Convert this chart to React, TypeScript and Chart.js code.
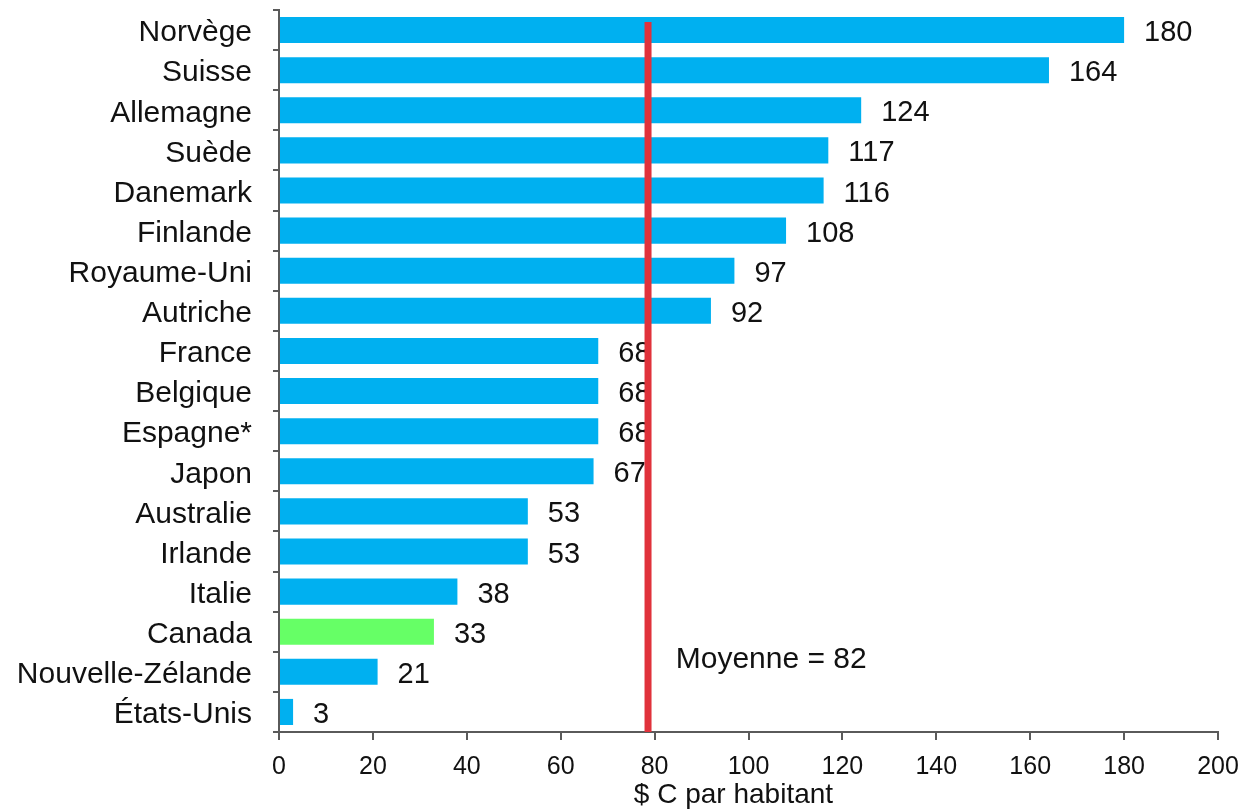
import React, { useEffect, useRef } from "react";
import { Chart, registerables } from "chart.js";

Chart.register(...registerables);

const categories = [
  "Norvège",
  "Suisse",
  "Allemagne",
  "Suède",
  "Danemark",
  "Finlande",
  "Royaume-Uni",
  "Autriche",
  "France",
  "Belgique",
  "Espagne*",
  "Japon",
  "Australie",
  "Irlande",
  "Italie",
  "Canada",
  "Nouvelle-Zélande",
  "États-Unis",
];

const values = [180, 164, 124, 117, 116, 108, 97, 92, 68, 68, 68, 67, 53, 53, 38, 33, 21, 3];

const highlightCategory = "Canada";

const xTicksMin = 0;
const xTicksMax = 200;
const xTicksStep = 20;
const xAxisTitle = "$ C par habitant";
const xAxisTitleCenter = 96.8;

const meanLineValue = 78.6;
const meanLabel = "Moyenne = 82";
const meanLabelX = 84.5;
const meanLabelCategoryPos = 15.7;

const FONT = "'Liberation Sans', Arial, sans-serif";
const TEXT = "#111111";
const BLUE = "#00b0f0";
const GREEN = "#66ff66";
const RED = "#e0323b";
const AXIS = "#5a5a5a";

export default function App() {
  const ref = useRef<HTMLCanvasElement | null>(null);

  useEffect(() => {
    if (!ref.current) return;

    const overlay = {
      id: "overlay",
      afterDatasetsDraw(chart: any) {
        const ctx = chart.ctx;
        const meta = chart.getDatasetMeta(0);
        ctx.save();
        ctx.font = `29px ${FONT}`;
        ctx.fillStyle = TEXT;
        ctx.textAlign = "left";
        ctx.textBaseline = "middle";
        meta.data.forEach((bar: any, i: number) => {
          ctx.fillText(String(values[i]), bar.x + 20, bar.y + 3);
        });
        ctx.restore();
      },
      afterDraw(chart: any) {
        const ctx = chart.ctx;
        const xs = chart.scales.x;
        const ys = chart.scales.y;
        const area = chart.chartArea;
        const x = xs.getPixelForValue(meanLineValue);
        ctx.save();
        ctx.fillStyle = RED;
        ctx.fillRect(x - 3.5, area.top + 12, 7, area.bottom - area.top - 12);
        ctx.font = `30px ${FONT}`;
        ctx.fillStyle = TEXT;
        ctx.textAlign = "left";
        ctx.textBaseline = "middle";
        ctx.fillText(meanLabel, xs.getPixelForValue(meanLabelX), ys.getPixelForValue(meanLabelCategoryPos));
        ctx.font = `28px ${FONT}`;
        ctx.textAlign = "center";
        ctx.fillText(xAxisTitle, xs.getPixelForValue(xAxisTitleCenter), area.bottom + 63);
        ctx.restore();
      },
    };

    const chart = new Chart(ref.current, {
      type: "bar",
      data: {
        labels: categories,
        datasets: [
          {
            data: values,
            backgroundColor: categories.map((c) => (c === highlightCategory ? GREEN : BLUE)),
            borderWidth: 0,
            barPercentage: 0.65,
            categoryPercentage: 1,
          },
        ],
      },
      options: {
        indexAxis: "y",
        animation: false,
        responsive: true,
        maintainAspectRatio: false,
        devicePixelRatio: 1,
        layout: { padding: { top: 10, right: 27, left: 0, bottom: 0 } },
        plugins: {
          legend: { display: false },
          tooltip: { enabled: false },
        },
        scales: {
          x: {
            min: xTicksMin,
            max: xTicksMax,
            ticks: {
              stepSize: xTicksStep,
              color: TEXT,
              font: { family: FONT, size: 25 },
              padding: 12,
            },
            grid: {
              drawOnChartArea: false,
              drawTicks: true,
              tickLength: 8,
              color: AXIS,
              lineWidth: 2,
            },
            border: { display: true, color: AXIS, width: 2 },
            afterFit(scale: any) {
              scale.height = 79;
              scale.paddingLeft = 0;
              scale.paddingRight = 0;
            },
          },
          y: {
            ticks: {
              color: TEXT,
              font: { family: FONT, size: 30 },
              padding: 21,
              labelOffset: 3,
              autoSkip: false,
            },
            grid: {
              drawOnChartArea: false,
              drawTicks: true,
              tickLength: 6,
              color: AXIS,
              lineWidth: 2,
              offset: true,
            },
            border: { display: true, color: AXIS, width: 2 },
            afterFit(scale: any) {
              scale.width = 279;
              scale.paddingTop = 0;
              scale.paddingBottom = 0;
            },
          },
        },
      },
      plugins: [overlay],
    } as any);

    return () => chart.destroy();
  }, []);

  return (
    <div style={{ position: "absolute", left: 0, top: 0, width: 1245, height: 811, background: "#fff" }}>
      <canvas ref={ref} />
    </div>
  );
}
